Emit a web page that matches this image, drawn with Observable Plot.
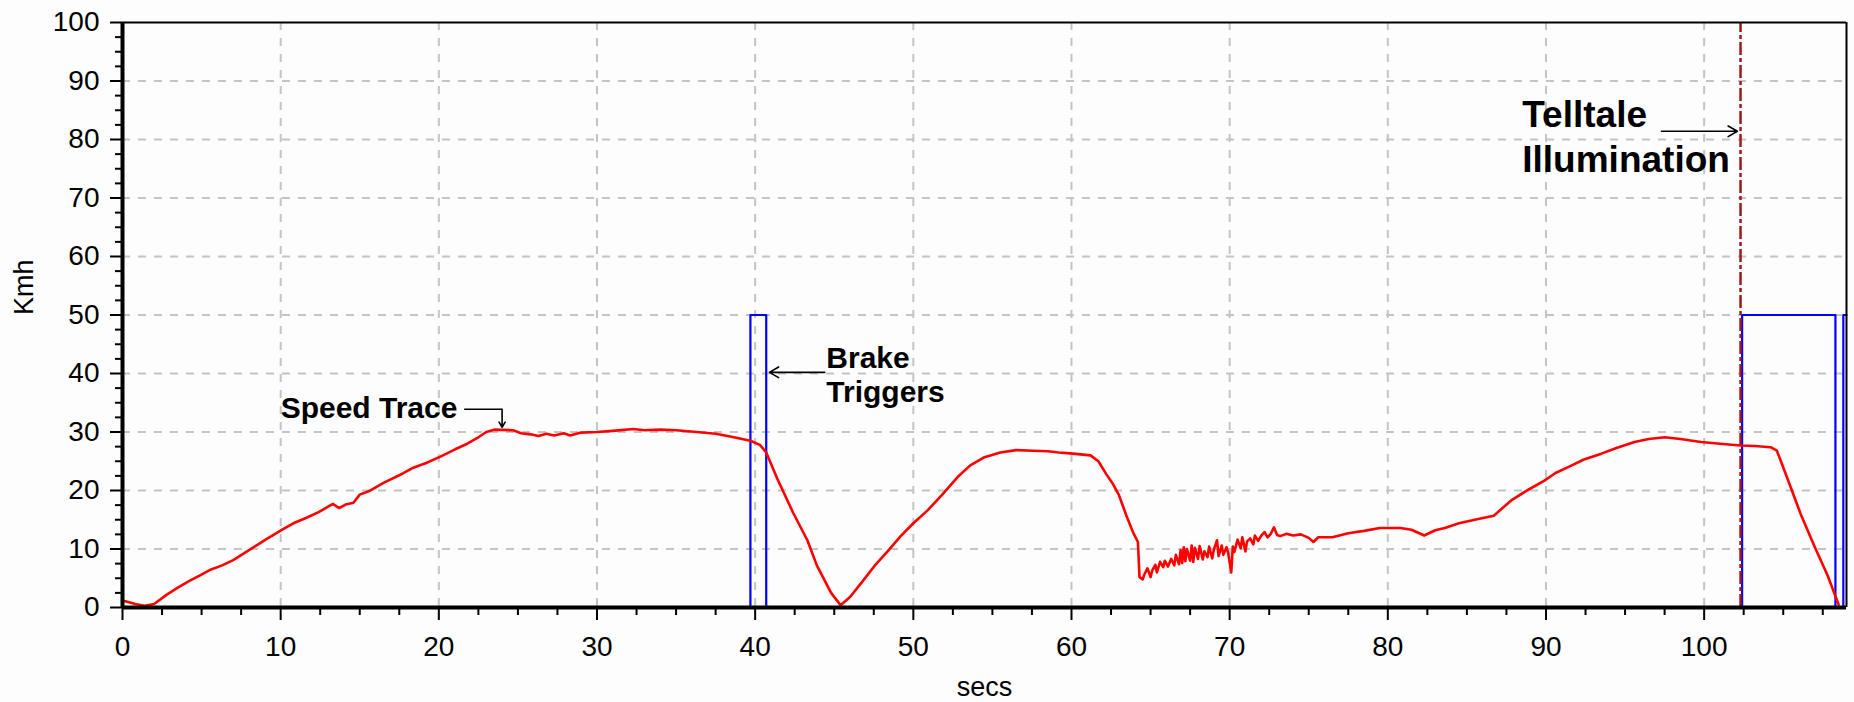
<!DOCTYPE html>
<html>
<head>
<meta charset="utf-8">
<script src="https://cdn.jsdelivr.net/npm/d3@7"></script>
<script src="https://cdn.jsdelivr.net/npm/@observablehq/plot@0.6"></script>
<style>
  html, body { margin: 0; padding: 0; background: #fdfdfd; }
</style>
</head>
<body>
<div id="chart"></div>
<script>
// ---- Speed trace (secs, Kmh) ----
const speedTime = [
  0.0, 0.3, 0.8, 1.4, 2.0, 2.8, 3.5, 4.2, 4.9, 5.6, 6.3, 7.0, 7.7, 8.4, 9.1, 10.1, 10.8, 11.6, 12.4, 13.3,
  13.7, 14.1, 14.6, 15.0, 15.6, 16.5, 17.5, 18.3, 19.2, 20.1, 21.0, 21.8, 22.5, 23.0, 23.5, 24.7, 25.2, 25.8, 26.3, 26.8,
  27.3, 27.9, 28.3, 29.0, 30.0, 31.0, 32.3, 33.0, 34.0, 35.0, 36.3, 37.5, 38.5, 39.7, 40.3, 40.7, 41.4, 42.4, 43.3, 43.9,
  44.8, 45.4, 46.0, 46.8, 47.6, 48.4, 49.2, 50.0, 50.9, 51.8, 52.8, 53.6, 54.5, 55.5, 56.5, 57.6, 58.5, 59.2, 60.1, 61.2,
  61.7, 62.2, 62.6, 63.0, 63.5, 63.9, 64.2, 64.3, 64.5, 64.6, 64.8, 65.0, 65.1, 65.3, 65.4, 65.6, 65.8, 65.9, 66.1, 66.3,
  66.5, 66.6, 66.8, 66.9, 67.0, 67.1, 67.2, 67.3, 67.5, 67.6, 67.7, 67.8, 68.0, 68.1, 68.3, 68.4, 68.6, 68.7, 68.9, 69.0,
  69.2, 69.3, 69.5, 69.6, 69.8, 69.9, 70.1, 70.2, 70.3, 70.5, 70.7, 70.8, 71.0, 71.1, 71.3, 71.5, 71.6, 71.8, 72.0, 72.2,
  72.4, 72.6, 72.8, 73.0, 73.2, 73.6, 74.0, 74.5, 75.0, 75.3, 75.6, 76.5, 77.5, 78.5, 79.5, 80.8, 81.5, 82.3, 83.0, 83.6,
  84.5, 85.5, 86.7, 87.8, 88.8, 89.9, 90.6, 91.4, 92.4, 93.5, 94.5, 95.6, 96.5, 97.5, 98.5, 99.8, 101.0, 102.3, 103.2, 104.2,
  104.6, 105.3, 106.1, 107.0, 107.8, 108.5
];
const speedKmh = [
  1.2, 1.0, 0.6, 0.3, 0.6, 2.2, 3.4, 4.5, 5.5, 6.5, 7.2, 8.1, 9.3, 10.5, 11.7, 13.3, 14.4, 15.3, 16.3, 17.7,
  17.0, 17.6, 17.9, 19.3, 19.9, 21.3, 22.6, 23.8, 24.7, 25.8, 27.0, 28.0, 29.1, 30.0, 30.4, 30.3, 29.8, 29.6, 29.3, 29.7,
  29.4, 29.8, 29.4, 29.9, 30.0, 30.2, 30.5, 30.3, 30.4, 30.3, 30.0, 29.7, 29.2, 28.5, 27.8, 26.5, 22.0, 16.2, 11.5, 7.2,
  2.5, 0.4, 1.8, 4.5, 7.3, 9.7, 12.2, 14.4, 16.6, 19.2, 22.3, 24.3, 25.7, 26.5, 26.9, 26.8, 26.7, 26.5, 26.3, 26.0,
  25.0, 22.8, 21.2, 19.2, 15.5, 12.8, 11.2, 5.2, 4.8, 5.6, 6.7, 5.2, 6.3, 7.3, 6.0, 7.8, 6.9, 8.0, 7.0, 8.3,
  7.2, 9.0, 7.4, 9.8, 7.6, 10.3, 7.9, 10.0, 8.0, 10.6, 7.8, 10.2, 8.3, 10.5, 8.2, 9.6, 8.6, 10.4, 8.4, 9.9,
  11.5, 8.8, 10.6, 9.0, 10.3, 9.4, 6.0, 10.4, 9.5, 11.6, 10.1, 12.0, 9.6, 11.3, 11.8, 10.8, 12.3, 11.4, 12.3, 12.9,
  12.0, 12.6, 13.7, 12.4, 12.2, 12.6, 12.3, 12.5, 11.9, 11.2, 12.0, 12.0, 12.7, 13.1, 13.6, 13.6, 13.3, 12.3, 13.2, 13.6,
  14.4, 15.0, 15.7, 18.3, 20.0, 21.7, 23.0, 24.0, 25.3, 26.3, 27.3, 28.3, 28.8, 29.1, 28.8, 28.3, 28.0, 27.7, 27.6, 27.4,
  26.8, 21.8, 16.0, 10.3, 5.5, 0.5
];

// ---- Brake trigger signal ----
const brakeTime = [0, 39.7, 39.7, 40.7, 40.7, 102.4, 102.4, 108.3, 108.3, 108.8, 108.8, 109];
const brakeLevel = [0, 0, 50, 50, 0, 0, 50, 50, 0, 0, 50, 50];

// ---- Telltale illumination ----
const telltaleTime = [102.3];

// ---- Axis ticks ----
const xMajorTicks = [0, 10, 20, 30, 40, 50, 60, 70, 80, 90, 100];
const xMinorTicks = [2.5, 5, 7.5, 12.5, 15, 17.5, 22.5, 25, 27.5, 32.5, 35, 37.5, 42.5, 45, 47.5, 52.5, 55, 57.5,
  62.5, 65, 67.5, 72.5, 75, 77.5, 82.5, 85, 87.5, 92.5, 95, 97.5, 102.5, 105, 107.5];
const yMajorTicks = [0, 10, 20, 30, 40, 50, 60, 70, 80, 90, 100];
const yMinorTicks = [2.5, 5, 7.5, 12.5, 15, 17.5, 22.5, 25, 27.5, 32.5, 35, 37.5, 42.5, 45, 47.5, 52.5, 55, 57.5,
  62.5, 65, 67.5, 72.5, 75, 77.5, 82.5, 85, 87.5, 92.5, 95, 97.5];
const xGrid = [10, 20, 30, 40, 50, 60, 70, 80, 90, 100];
const yGrid = [10, 20, 30, 40, 50, 60, 70, 80, 90];

// ---- Annotations ----
const smallLabels = ["Speed Trace", "Brake", "Triggers"];
const smallTime = [10.0, 44.5, 44.5];
const smallKmh = [34.0, 42.6, 36.8];
const bigLabels = ["Telltale", "Illumination"];
const bigTime = [88.5, 88.5];
const bigKmh = [84.1, 76.4];
const arrowX1 = [24.0, 44.4, 97.3];
const arrowY1 = [33.9, 40.2, 81.4];
const arrowX2 = [24.0, 40.9, 102.1];
const arrowY2 = [30.8, 40.2, 81.4];
const leaderX1 = [21.6];
const leaderX2 = [24.0];
const leaderY = [33.9];

const speed = speedTime.map((t, i) => ({t, v: speedKmh[i]}));
const brake = brakeTime.map((t, i) => ({t, v: brakeLevel[i]}));
const smallAnnos = smallLabels.map((label, i) => ({label, t: smallTime[i], v: smallKmh[i]}));
const bigAnnos = bigLabels.map((label, i) => ({label, t: bigTime[i], v: bigKmh[i]}));
const arrows = arrowX1.map((x1, i) => ({x1, y1: arrowY1[i], x2: arrowX2[i], y2: arrowY2[i]}));
const leaders = leaderX1.map((x1, i) => ({x1, x2: leaderX2[i], y: leaderY[i]}));

const chart = Plot.plot({
  width: 1854,
  height: 702,
  marginLeft: 122,
  marginRight: 8,
  marginTop: 22,
  marginBottom: 95,
  style: {fontFamily: "'Liberation Sans', Arial, sans-serif", fontSize: "28px", background: "#fdfdfd", color: "#000"},
  x: {domain: [0, 109]},
  y: {domain: [0, 100]},
  marks: [
    Plot.gridX(xGrid, {stroke: "#c4c4c4", strokeOpacity: 1, strokeWidth: 2, strokeDasharray: "8,8"}),
    Plot.gridY(yGrid, {stroke: "#c4c4c4", strokeOpacity: 1, strokeWidth: 2, strokeDasharray: "8,8"}),
    Plot.line(brake, {x: "t", y: "v", stroke: "#0000ff", strokeWidth: 2.2, curve: "linear"}),
    Plot.ruleX(telltaleTime, {y1: 0, y2: 100, stroke: "#a01818", strokeWidth: 2.5, strokeDasharray: "13,3,4,3"}),
    Plot.line(speed, {x: "t", y: "v", stroke: "#ff0000", strokeWidth: 2.6, curve: "linear"}),
    // frame
    Plot.ruleY([100], {stroke: "#000", strokeWidth: 2}),
    Plot.ruleX([109], {stroke: "#000", strokeWidth: 2}),
    Plot.ruleY([0], {stroke: "#000", strokeWidth: 4}),
    Plot.ruleX([0], {stroke: "#000", strokeWidth: 4}),
    // axes
    Plot.axisX(xMajorTicks, {tickSize: 13, tickPadding: 16, strokeWidth: 2, label: null, tickFormat: d => d}),
    Plot.axisX(xMinorTicks, {tickSize: 8, strokeWidth: 2, label: null, tickFormat: () => ""}),
    Plot.axisY(yMajorTicks, {tickSize: 12, tickPadding: 11, strokeWidth: 2, label: null, tickFormat: d => d}),
    Plot.axisY(yMinorTicks, {tickSize: 7, strokeWidth: 2, label: null, tickFormat: () => ""}),
    Plot.text(["Kmh"], {frameAnchor: "left", dx: -98, rotate: -90, fontSize: 27, lineAnchor: "middle"}),
    Plot.text(["secs"], {frameAnchor: "bottom", dy: 80, fontSize: 27, lineAnchor: "middle"}),
    // annotations
    Plot.text(smallAnnos, {x: "t", y: "v", text: "label", textAnchor: "start", lineAnchor: "middle", fontWeight: "bold", fontSize: 30}),
    Plot.text(bigAnnos, {x: "t", y: "v", text: "label", textAnchor: "start", lineAnchor: "middle", fontWeight: "bold", fontSize: 37}),
    Plot.link(leaders, {x1: "x1", x2: "x2", y1: "y", y2: "y", stroke: "#000", strokeWidth: 1.6}),
    Plot.arrow(arrows, {x1: "x1", y1: "y1", x2: "x2", y2: "y2", stroke: "#000", strokeWidth: 1.6, headLength: 10, headAngle: 60})
  ]
});
document.getElementById("chart").append(chart);
</script>
</body>
</html>
